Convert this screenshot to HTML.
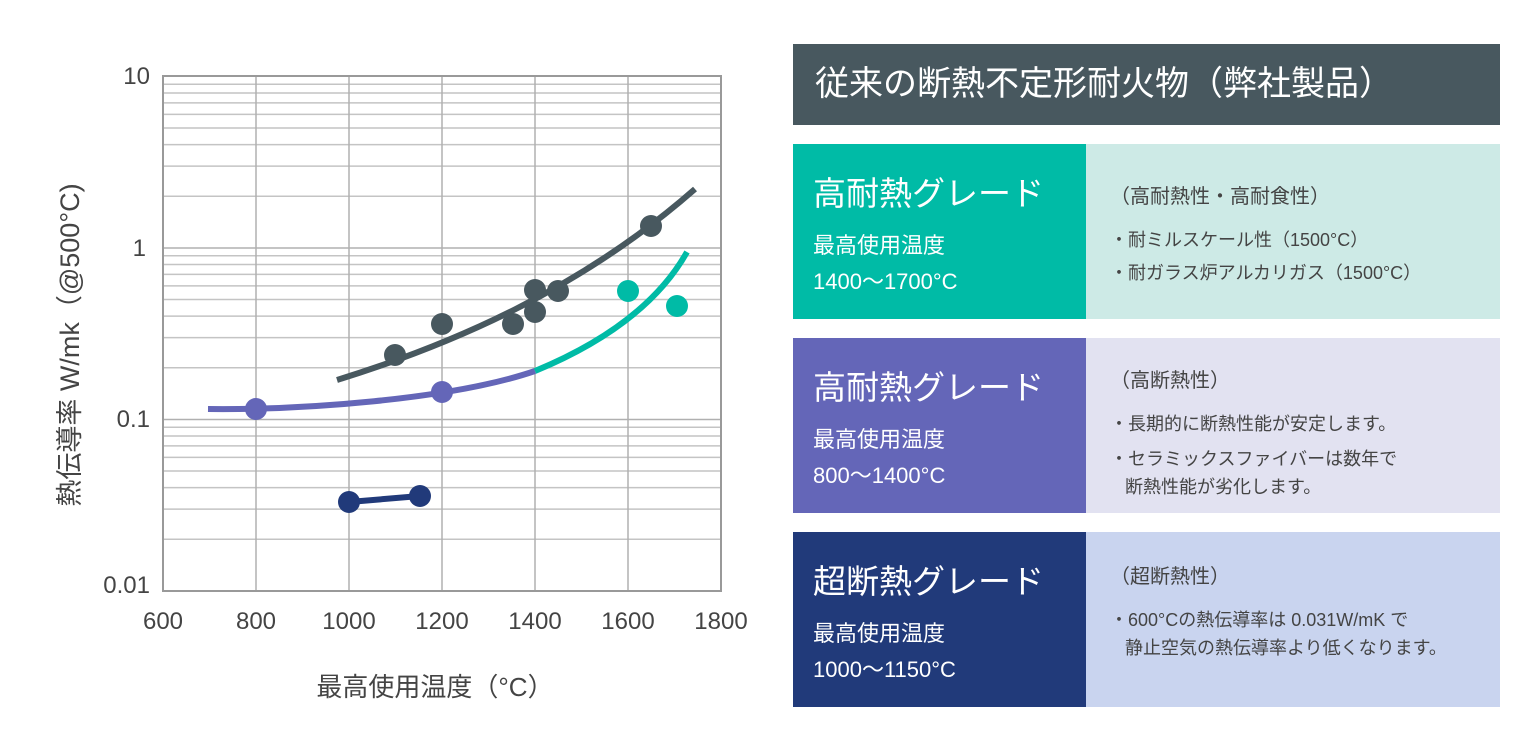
<!DOCTYPE html>
<html><head><meta charset="utf-8"><style>
body{margin:0;width:1536px;height:747px;background:#fff;position:relative;overflow:hidden;font-family:"Liberation Sans","Noto Sans CJK JP",sans-serif;}
.a{position:absolute;}
.hd{left:793px;top:44px;width:707px;height:81px;background:#48585f;color:#fff;font-size:34px;line-height:81px;padding-left:22px;box-sizing:border-box;}
.l{left:793px;width:293px;height:175px;color:#fff;box-sizing:border-box;padding-left:20px;}
.r{left:1086px;width:414px;height:175px;color:#444;box-sizing:border-box;padding-left:24px;font-size:18px;}
.t1{font-size:33px;margin-top:28px;line-height:44px;}
.t2{font-size:22px;line-height:36px;margin-top:12px;}
.h{font-size:20px;margin-top:38px;line-height:30px;margin-bottom:12px;}
.b{line-height:33px;}
</style></head><body>
<svg class="a" style="left:0;top:0" width="780" height="747">
<g stroke="#c4c4c4" stroke-width="1.5" fill="none">
<path d="M163 196.3H721M163 166.1H721M163 144.6H721M163 128H721M163 114.4H721M163 102.9H721M163 93H721M163 84.2H721
M163 367.8H721M163 337.6H721M163 316.1H721M163 299.5H721M163 285.9H721M163 274.4H721M163 264.5H721M163 255.7H721
M163 539.3H721M163 509.1H721M163 487.6H721M163 471H721M163 457.4H721M163 445.9H721M163 436H721M163 427.2H721"/>
<path d="M163 248H721M163 419.5H721M256 76V591M349 76V591M442 76V591M535 76V591M628 76V591" stroke="#b0b0b0"/>
</g>
<rect x="163" y="76" width="558" height="515" fill="none" stroke="#999" stroke-width="2"/>
<g font-size="24" fill="#444" text-anchor="end">
<text x="150" y="84">10</text><text x="146" y="256">1</text><text x="150" y="427">0.1</text><text x="150" y="593">0.01</text>
</g>
<g font-size="24" fill="#444" text-anchor="middle">
<text x="163" y="629">600</text><text x="256" y="629">800</text><text x="349" y="629">1000</text><text x="442" y="629">1200</text><text x="535" y="629">1400</text><text x="628" y="629">1600</text><text x="721" y="629">1800</text>
</g>
<text x="435" y="696" font-size="26" fill="#444" text-anchor="middle">最高使用温度（°C）</text>
<text transform="translate(79,345) rotate(-90)" font-size="27" fill="#444" text-anchor="middle">熱伝導率 W/mk（@500°C)</text>
<path d="M337 380 C450 345 580 290 695 189" stroke="#48585f" stroke-width="6" fill="none"/>
<path d="M208 409 C300 410 450 400 535 371" stroke="#6466b8" stroke-width="6" fill="none"/>
<path d="M535 371 C610 340 660 300 687 252" stroke="#00bba6" stroke-width="6" fill="none"/>
<path d="M349 502 L420 496" stroke="#213a7a" stroke-width="6"/>
<g fill="#48585f"><circle cx="395" cy="355" r="11"/><circle cx="442" cy="324" r="11"/><circle cx="513" cy="324" r="11"/><circle cx="535" cy="290" r="11"/><circle cx="535" cy="312" r="11"/><circle cx="558" cy="291" r="11"/><circle cx="651" cy="226" r="11"/></g>
<g fill="#6466b8"><circle cx="256" cy="409" r="11"/><circle cx="442" cy="392" r="11"/></g>
<g fill="#00bba6"><circle cx="628" cy="291" r="11"/><circle cx="677" cy="306" r="11"/></g>
<g fill="#213a7a"><circle cx="349" cy="502" r="11"/><circle cx="420" cy="496" r="11"/></g>
</svg>
<div class="a hd">従来の断熱不定形耐火物（弊社製品）</div>
<div class="a l" style="top:144px;background:#00bba6"><div class="t1">高耐熱グレード</div><div class="t2">最高使用温度<br>1400〜1700°C</div></div>
<div class="a r" style="top:144px;background:#cdeae6"><div class="h">（高耐熱性・高耐食性）</div><div class="b">・耐ミルスケール性（1500°C）</div><div class="b">・耐ガラス炉アルカリガス（1500°C）</div></div>
<div class="a l" style="top:338px;background:#6466b8"><div class="t1">高耐熱グレード</div><div class="t2">最高使用温度<br>800〜1400°C</div></div>
<div class="a r" style="top:338px;background:#e2e2f1"><div class="h" style="margin-top:28px">（高断熱性）</div><div class="b">・長期的に断熱性能が安定します。</div><div class="b" style="line-height:28px;margin-top:4px">・セラミックスファイバーは数年で<br>&nbsp;&nbsp;&nbsp;断熱性能が劣化します。</div></div>
<div class="a l" style="top:532px;background:#213a7a"><div class="t1">超断熱グレード</div><div class="t2">最高使用温度<br>1000〜1150°C</div></div>
<div class="a r" style="top:532px;background:#c9d4ef"><div class="h" style="margin-top:30px;margin-bottom:14px">（超断熱性）</div><div class="b" style="line-height:28px">・600°Cの熱伝導率は 0.031W/mK で<br>&nbsp;&nbsp;&nbsp;静止空気の熱伝導率より低くなります。</div></div>
</body></html>
